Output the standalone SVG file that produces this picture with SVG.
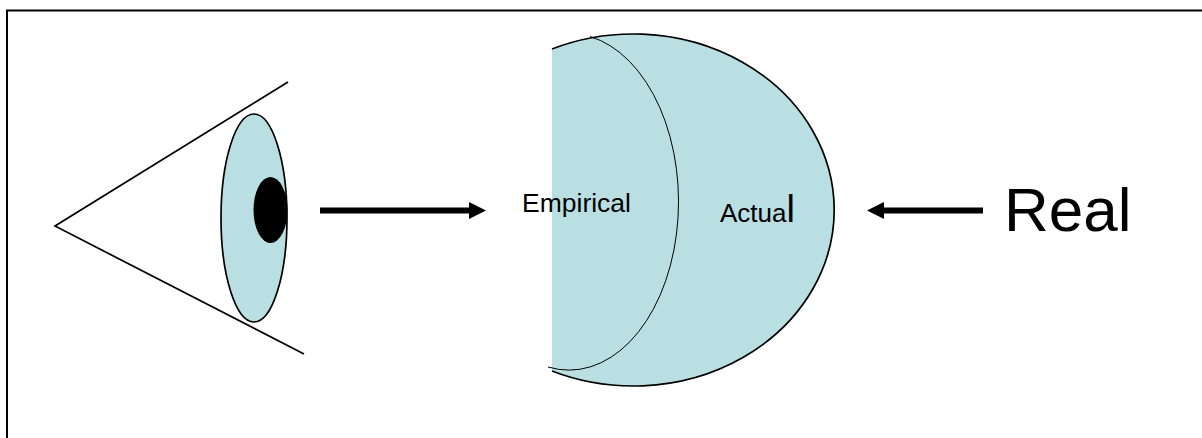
<svg xmlns="http://www.w3.org/2000/svg" width="1202" height="438" viewBox="0 0 1202 438">
<style>
.t{font-family:"Liberation Sans",Arial,sans-serif;fill:#000}
.l{fill:none;stroke:#000;stroke-width:1.7}
</style>
<defs>
<marker id="ah" markerUnits="userSpaceOnUse" markerWidth="18" markerHeight="18" refX="0" refY="9" orient="auto"><path d="M0,0.500L17,9L0,17.500Z" fill="#000"/></marker>
</defs>
<rect width="1202" height="438" fill="#fff"/>
<path id="frame" d="M7,438V10.500H1202" fill="none" stroke="#000" stroke-width="2"/>
<g id="eye">
<path class="l" d="M288,82L55,226L304,354"/>
<ellipse cx="254" cy="218" rx="33" ry="104" fill="#b9dfe3" stroke="#000" stroke-width="1.7"/>
<ellipse cx="270.500" cy="210" rx="17" ry="33" fill="#000"/>
</g>
<g id="actual">
<path d="M552,49A201,176 0 1 1 552,371Z" fill="#b9dfe3"/>
<path class="l" d="M552,49A201,176 0 1 1 552,371"/>
<path fill="none" stroke="#000" stroke-width="1" d="M590,36.500A109,167.500 0 0 1 548,367"/>
<text class="t" x="720" y="222" font-size="26">Actua<tspan font-size="38">l</tspan></text>
</g>
<g id="empirical"><text class="t" x="522" y="212" font-size="26.500">Empirical</text></g>
<g id="real"><text class="t" x="1004" y="231" font-size="62">Real</text></g>
<g id="connectors" fill="none" stroke="#000" stroke-width="6">
<path d="M320,210.500H469" marker-end="url(#ah)"/>
<path d="M983,210.500H884" marker-end="url(#ah)"/>
</g>
</svg>
